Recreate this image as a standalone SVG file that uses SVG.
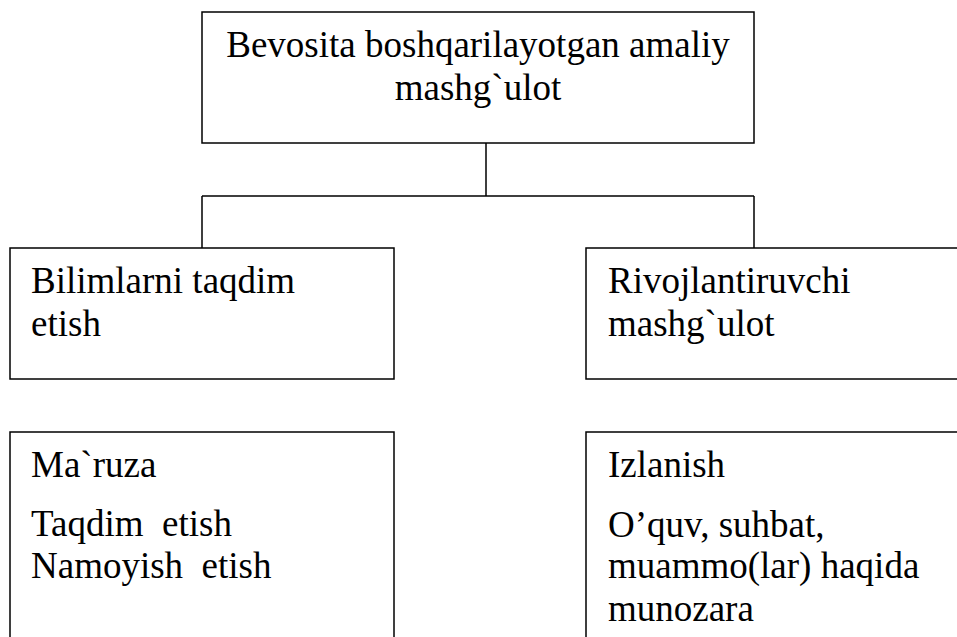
<svg xmlns="http://www.w3.org/2000/svg" width="957" height="637" viewBox="0 0 957 637">
<style>
.box{fill:#fff;stroke:#000;stroke-width:1.5}
.conn{fill:none;stroke:#000;stroke-width:1.5}
text{font-family:"Times New Roman","Liberation Serif",Tinos,"DejaVu Serif","Noto Serif",serif;font-size:37px;fill:#000}
.c{text-anchor:middle}
</style>
<rect x="0" y="0" width="957" height="637" fill="#fff"/>
<g id="connectors">
<path class="conn" d="M486,143 V196 M202,196 H754 M202,196 V248 M754,196 V248"/>
</g>
<g id="top">
<rect class="box" x="202" y="12" width="552" height="131"/>
<text class="c" x="478" y="57">Bevosita boshqarilayotgan amaliy</text>
<text class="c" x="478" y="100">mashg`ulot</text>
</g>
<g id="left-mid">
<rect class="box" x="10" y="248" width="384" height="131"/>
<text x="31" y="293">Bilimlarni taqdim</text>
<text x="31" y="336">etish</text>
</g>
<g id="right-mid">
<rect class="box" x="586" y="248" width="384" height="131"/>
<text x="608" y="293">Rivojlantiruvchi</text>
<text x="608" y="336">mashg`ulot</text>
</g>
<g id="left-bottom">
<rect class="box" x="10" y="432" width="384" height="230"/>
<text x="31" y="477">Ma`ruza</text>
<text x="31" y="536" xml:space="preserve">Taqdim  etish</text>
<text x="31" y="578" xml:space="preserve">Namoyish  etish</text>
</g>
<g id="right-bottom">
<rect class="box" x="586" y="432" width="384" height="230"/>
<text x="608" y="477">Izlanish</text>
<text x="608" y="537">O’quv, suhbat,</text>
<text x="608" y="578">muammo(lar) haqida</text>
<text x="608" y="621">munozara</text>
</g>
</svg>
